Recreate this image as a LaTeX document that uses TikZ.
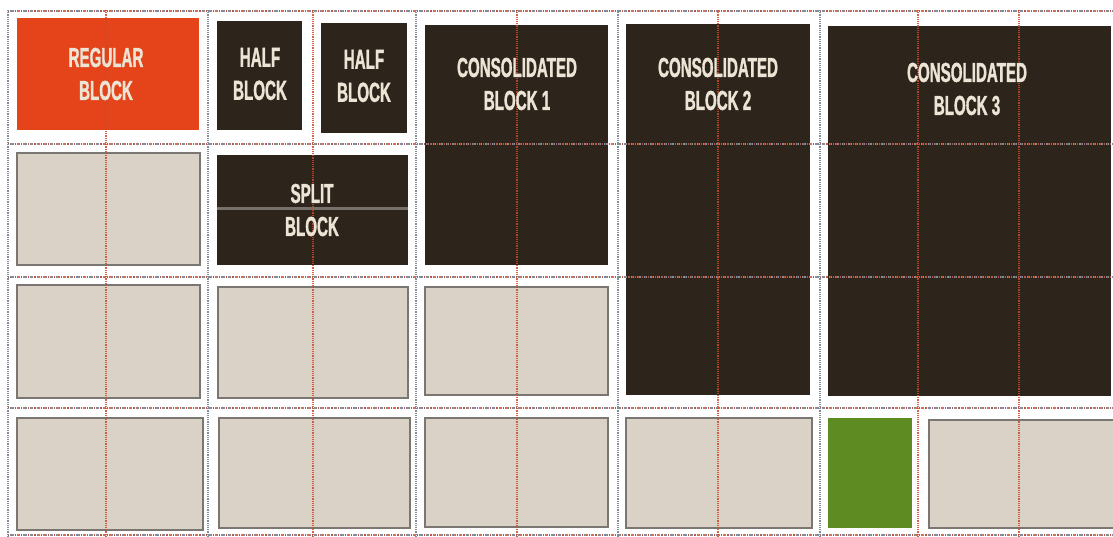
\documentclass[tikz,border=0pt]{standalone}
\usepackage{fontspec}
\newfontfamily\blkfont[FakeStretch=0.55,FakeBold=1.2]{Liberation Sans Bold}
\definecolor{regorange}{HTML}{E5441B}
\definecolor{darkbrown}{HTML}{2D251C}
\definecolor{beige}{HTML}{DAD2C7}
\definecolor{beigeline}{HTML}{7A7672}
\definecolor{leafgreen}{HTML}{5F8C22}
\definecolor{cream}{HTML}{ECE4D4}
\definecolor{gridgray}{HTML}{858B9A}
\definecolor{gridred}{HTML}{C9492A}
\definecolor{splitline}{HTML}{77716B}
\begin{document}
\begin{tikzpicture}[x=1pt,y=-1pt,
  blkbase/.style={rectangle, inner sep=0pt, outer sep=0pt},
  regblk/.style={blkbase, fill=regorange},
  darkblk/.style={blkbase, fill=darkbrown},
  emptyblk/.style={blkbase, fill=beige, draw=beigeline, line width=1.8pt},
  greenblk/.style={blkbase, fill=leafgreen},
  lbl/.style={text=cream, inner sep=0pt, align=center,
    font=\blkfont\fontsize{27.5}{33}\selectfont},
  colline/.style={draw=gridgray, line width=2pt, dash pattern=on 1.2pt off 1pt},
  midline/.style={draw=gridred, line width=1.8pt, dash pattern=on 1.2pt off 1pt, opacity=0.85},
  rowgray/.style={draw=gridgray, line width=2pt, dash pattern=on 1.2pt off 1pt},
  rowred/.style={draw=gridred, line width=2pt, dash pattern=on 1.1pt off 2.2pt, opacity=0.8}
]
\useasboundingbox (0,0) rectangle (1113,537);
\clip (0,0) rectangle (1113,537);
\fill[white] (0,0) rectangle (1113,537);

% row 1
\node[regblk, minimum width=182pt, minimum height=112pt] (reg) at (108,74) {};
\node[darkblk, minimum width=85pt, minimum height=109pt] (half1) at (259.5,75.5) {};
\node[darkblk, minimum width=86pt, minimum height=110pt] (half2) at (364,78) {};
\node[darkblk, minimum width=183pt, minimum height=240pt] (cons1) at (516.5,145) {};
\node[darkblk, minimum width=184pt, minimum height=371pt] (cons2) at (718,209.5) {};
\node[darkblk, minimum width=283pt, minimum height=370pt] (cons3) at (969.5,211) {};
% row 2
\node[emptyblk, minimum width=183pt, minimum height=112pt] (b21) at (108.5,209) {};
\node[darkblk, minimum width=191pt, minimum height=110pt] (split) at (312.5,210) {};
\draw[splitline, line width=3pt] (split.west |- 0,209) -- (split.east |- 0,209);
% row 3
\node[emptyblk, minimum width=183pt, minimum height=113pt] (b31) at (108.5,341.5) {};
\node[emptyblk, minimum width=190pt, minimum height=111pt] (b32) at (313,342.5) {};
\node[emptyblk, minimum width=183pt, minimum height=108pt] (b33) at (516.5,341) {};
% row 4
\node[emptyblk, minimum width=186pt, minimum height=112pt] (b41) at (110,474) {};
\node[emptyblk, minimum width=191pt, minimum height=110pt] (b42) at (314.5,473) {};
\node[emptyblk, minimum width=183pt, minimum height=109pt] (b43) at (516.5,472.5) {};
\node[emptyblk, minimum width=186pt, minimum height=110pt] (b44) at (719,473) {};
\node[greenblk, minimum width=84pt, minimum height=110pt] (green) at (870,473) {};
\node[emptyblk, minimum width=190pt, minimum height=108pt] (b46) at (1024,474) {};

% grid lines
\foreach \yy in {11,144,277,408,535} {
  \draw[rowgray] (8,\yy) -- (1113,\yy);
  \draw[rowred] (8,\yy) -- (1113,\yy);
}
\foreach \xx in {8,208,416,618,820} {
  \draw[colline] (\xx,10) -- (\xx,537);
}
\foreach \xx in {106,313,517,718,918,1019} {
  \draw[midline] (\xx,10) -- (\xx,537);
}

% labels
\node[lbl] (reg-t) at (106,74) {REGULAR\\BLOCK};
\node[lbl] (half1-t) at (260,74) {HALF\\BLOCK};
\node[lbl] (half2-t) at (364,76) {HALF\\BLOCK};
\node[lbl] (split-t) at (312,210) {SPLIT\\BLOCK};
\node[lbl] (cons1-t) at (517,84) {CONSOLIDATED\\BLOCK 1};
\node[lbl] (cons2-t) at (718,84) {CONSOLIDATED\\BLOCK 2};
\node[lbl] (cons3-t) at (967,89) {CONSOLIDATED\\BLOCK 3};
\end{tikzpicture}
\end{document}
